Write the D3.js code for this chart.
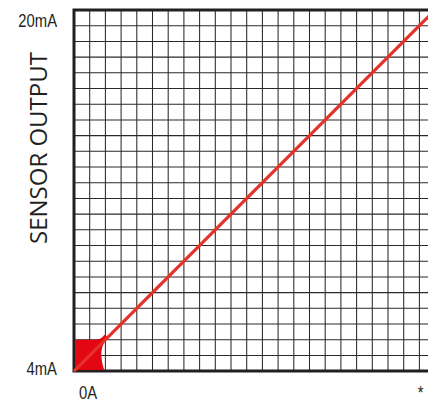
<!DOCTYPE html>
<html>
<head>
<meta charset="utf-8">
<script src="https://cdn.jsdelivr.net/npm/d3@7"></script>
<style>
  html, body { margin: 0; padding: 0; background: #fff; }
  svg { display: block; }
  .tick-label { font-family: "Liberation Sans", Arial, sans-serif; fill: #231f20; }
</style>
</head>
<body>
<div id="chart"></div>
<script>
const width = 428;
const height = 403;

// chart values
const currentLabels = ["0A", "*"];        // x axis labels
const currentValues = [0, 0.96];           // position of the labels on the input range
const outputLabels = ["4mA", "20mA"];      // y axis labels
const outputValues = [4, 20];
const lineInput = [0, 1];                  // full-scale input
const lineOutput = [4, 20];                // sensor output in mA
const gridCells = 23;                      // grid divisions in both directions
const blobCells = 2;                       // red square at the origin, in cells

const cell = 15.7;
const marginLeft = 74, marginTop = 10;
const size = cell * gridCells;
const squeeze = 0.78;                      // narrow look of the tick labels

const x = d3.scaleLinear().domain([0, 1]).range([marginLeft, marginLeft + size]);
const y = d3.scaleLinear().domain([4, 20]).range([marginTop + size, marginTop]);
const gx = d3.scaleLinear().domain([0, gridCells]).range([marginLeft, marginLeft + size]);
const gy = d3.scaleLinear().domain([0, gridCells]).range([marginTop + size, marginTop]);

const svg = d3.select("#chart")
    .append("svg")
    .attr("width", width)
    .attr("height", height)
    .attr("viewBox", [0, 0, width, height]);

// grid
const g = svg.append("g").attr("stroke", "#2a2a2a").attr("stroke-width", 1.05);
g.selectAll("line.v")
    .data(d3.range(1, gridCells + 1))
    .join("line")
    .attr("class", "v")
    .attr("x1", d => gx(d)).attr("x2", d => gx(d))
    .attr("y1", marginTop).attr("y2", marginTop + size);
g.selectAll("line.h")
    .data(d3.range(1, gridCells))
    .join("line")
    .attr("class", "h")
    .attr("x1", marginLeft).attr("x2", marginLeft + size)
    .attr("y1", d => gy(d)).attr("y2", d => gy(d));

// frame
svg.append("path")
    .attr("d", `M${marginLeft + size},${marginTop}H${marginLeft}V${marginTop + size}H${marginLeft + size}`)
    .attr("fill", "none")
    .attr("stroke", "#231f20")
    .attr("stroke-width", 3);

// red blob at origin
const bx0 = gx(0) + 1, by0 = gy(0) - 1;
const bx1 = gx(blobCells), by1 = gy(blobCells);
const blob = d3.path();
blob.moveTo(bx0, by0);
blob.lineTo(bx0, by1 + 2);
blob.quadraticCurveTo(bx0, by1, bx0 + 2, by1);
blob.lineTo(bx1 - 11, by1);
blob.quadraticCurveTo(bx1 - 4, by1, bx1 - 1, by1 - 5);
blob.lineTo(bx1 + 2, by1 - 3);
blob.quadraticCurveTo(bx1 - 5, by1 + 7, bx1 - 4, by1 + 17);
blob.quadraticCurveTo(bx1 - 3, by1 + 26, bx1 - 1, by0);
blob.closePath();
svg.append("path")
    .attr("d", blob.toString())
    .attr("fill", "#e30613");

// output line
const line = d3.line().x(d => x(d[0])).y(d => y(d[1]));
svg.append("path")
    .datum(d3.zip(lineInput, lineOutput))
    .attr("d", line)
    .attr("fill", "none")
    .attr("stroke", "#e4322b")
    .attr("stroke-width", 3.2);

// y labels
svg.selectAll("text.ylab")
    .data(outputValues)
    .join("text")
    .attr("class", "tick-label ylab")
    .attr("transform", d => `translate(57,${y(d) + (d === 20 ? 17 : 4)}) scale(${squeeze},1)`)
    .attr("text-anchor", "end")
    .attr("font-size", 19)
    .text((d, i) => outputLabels[i]);

// x labels
svg.selectAll("text.xlab")
    .data(currentValues)
    .join("text")
    .attr("class", "tick-label xlab")
    .attr("transform", (d, i) => `translate(${i === 0 ? x(d) + 14 : x(d)},${marginTop + size + 28}) scale(${squeeze},1)`)
    .attr("text-anchor", "middle")
    .attr("font-size", 19)
    .text((d, i) => currentLabels[i]);

// axis title
svg.append("text")
    .attr("transform", `translate(47,148) rotate(-90)`)
    .attr("text-anchor", "middle")
    .attr("font-family", "'Open Sans', sans-serif")
    .attr("font-size", 24)
    .attr("fill", "#231f20")
    .text("SENSOR OUTPUT");
</script>
</body>
</html>
